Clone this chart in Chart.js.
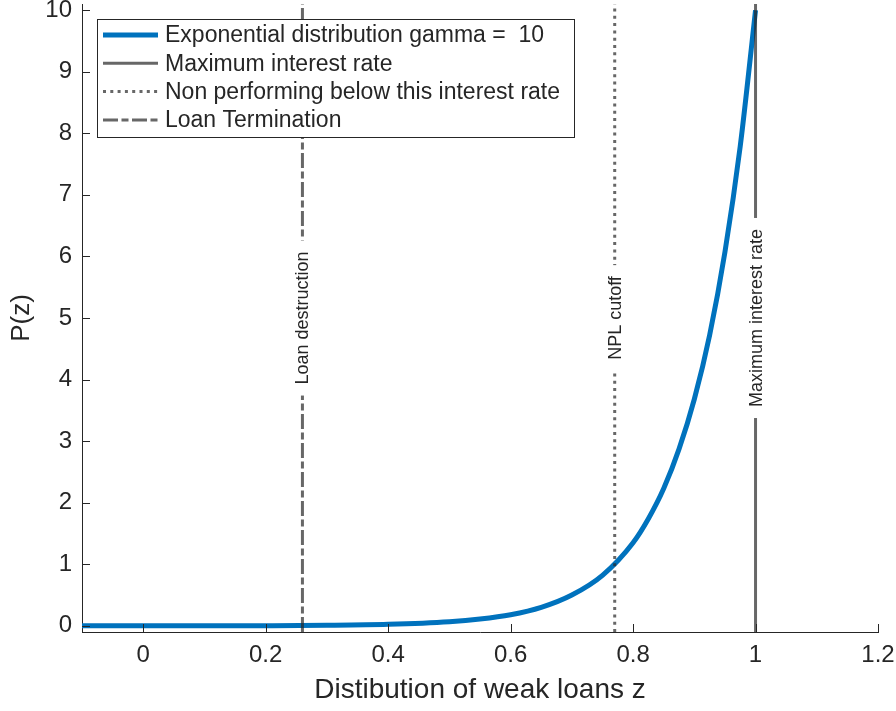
<!DOCTYPE html>
<html>
<head>
<meta charset="utf-8">
<script src="https://cdn.jsdelivr.net/npm/chart.js@4/dist/chart.umd.min.js"></script>
<style>
  html, body { margin: 0; padding: 0; background: #ffffff; }
  #wrap { width: 896px; height: 711px; }
</style>
</head>
<body>
<div id="wrap"><canvas id="chart" width="896" height="711"></canvas></div>
<script>
// Density of weak loans P(z), sampled along z
const zValues       = [-0.1, 0.0, 0.1, 0.2, 0.3, 0.4, 0.5, 0.55, 0.6, 0.65, 0.7, 0.75, 0.8, 0.825, 0.85, 0.875, 0.9, 0.925, 0.95, 0.975, 1.0];
const densityValues = [0.0, 0.0005, 0.001, 0.003, 0.009, 0.025, 0.067, 0.11, 0.18, 0.30, 0.50, 0.82, 1.35, 1.74, 2.23, 2.87, 3.68, 4.72, 6.07, 7.79, 10.0];
const curveName = 'Exponential distribution gamma =  10';

// Vertical reference lines
const markerNames     = ['Maximum interest rate', 'Non performing below this interest rate', 'Loan Termination'];
const markerPositions = [1.0, 0.77, 0.26];
const markerLabels    = ['Maximum interest rate', 'NPL cutoff', 'Loan destruction'];

// Axes
const xRange = [-0.1, 1.2];
const yRange = [-0.1, 10.1];
const xTickValues = [0, 0.2, 0.4, 0.6, 0.8, 1, 1.2];
const xTickLabels = ['0', '0.2', '0.4', '0.6', '0.8', '1', '1.2'];
const yTickValues = [0, 1, 2, 3, 4, 5, 6, 7, 8, 9, 10];
const yTickLabels = ['0', '1', '2', '3', '4', '5', '6', '7', '8', '9', '10'];
const xTitle = 'Distibution of weak loans z';
const yTitle = 'P(z)';

const FONT = "'Liberation Sans', Arial, Helvetica, sans-serif";
const INK = '#262626';
const LINE_GREY = 'rgba(38,38,38,0.7)';
const BLUE = '#0072BD';
const markerDashes = [[], [3, 4.3], [15, 3.5, 7, 3.5]];

const curvePoints = zValues.map((z, i) => ({ x: z, y: densityValues[i] }));

const datasets = [{
  label: curveName,
  data: curvePoints,
  borderColor: BLUE,
  borderWidth: 5,
  cubicInterpolationMode: 'monotone',
  pointRadius: 0,
  fill: false,
  order: 1
}];
markerPositions.forEach((pos, i) => {
  datasets.push({
    label: markerNames[i],
    data: [{ x: pos, y: yRange[0] }, { x: pos, y: yRange[1] }],
    borderColor: LINE_GREY,
    borderWidth: 3,
    borderDash: markerDashes[i],
    pointRadius: 0,
    fill: false,
    order: 0
  });
});

// Inward tick marks, MATLAB style
const innerTicks = {
  id: 'innerTicks',
  afterDraw(chart) {
    const { ctx, chartArea, scales } = chart;
    ctx.save();
    ctx.strokeStyle = INK;
    ctx.lineWidth = 1;
    ctx.beginPath();
    xTickValues.forEach(v => {
      const px = Math.round(scales.x.getPixelForValue(v)) + 0.5;
      ctx.moveTo(px, chartArea.bottom);
      ctx.lineTo(px, chartArea.bottom - 8);
    });
    yTickValues.forEach(v => {
      const py = Math.round(scales.y.getPixelForValue(v)) + 0.5;
      ctx.moveTo(chartArea.left, py);
      ctx.lineTo(chartArea.left + 8, py);
    });
    ctx.stroke();
    ctx.restore();
  }
};

// Rotated labels sitting in gaps of the vertical lines
const lineLabels = {
  id: 'lineLabels',
  afterDatasetsDraw(chart) {
    const { ctx, chartArea, scales } = chart;
    const midY = (chartArea.top + chartArea.bottom) / 2;
    ctx.save();
    ctx.font = '18px ' + FONT;
    markerPositions.forEach((pos, i) => {
      const px = scales.x.getPixelForValue(pos);
      const text = markerLabels[i];
      const w = ctx.measureText(text).width;
      ctx.fillStyle = '#ffffff';
      ctx.fillRect(px - 6, midY - w / 2 - 11, 12, w + 22);
      ctx.save();
      ctx.translate(px, midY);
      ctx.rotate(-Math.PI / 2);
      ctx.textAlign = 'center';
      ctx.textBaseline = 'middle';
      ctx.fillStyle = INK;
      ctx.fillText(text, 0, 1);
      ctx.restore();
    });
    ctx.restore();
  }
};

// Boxed legend in the upper-left corner of the plot
const boxLegend = {
  id: 'boxLegend',
  afterDraw(chart) {
    const { ctx } = chart;
    const bx = 97, by = 19, bw = 477, bh = 118;
    ctx.save();
    ctx.fillStyle = '#ffffff';
    ctx.fillRect(bx, by, bw, bh);
    ctx.strokeStyle = INK;
    ctx.lineWidth = 1;
    ctx.strokeRect(bx + 0.5, by + 0.5, bw, bh);
    ctx.font = '23px ' + FONT;
    ctx.textBaseline = 'middle';
    ctx.textAlign = 'left';
    chart.data.datasets.forEach((ds, i) => {
      const cy = 35 + i * 28.3;
      ctx.beginPath();
      ctx.strokeStyle = ds.borderColor;
      ctx.lineWidth = ds.borderWidth;
      ctx.setLineDash(ds.borderDash || []);
      ctx.moveTo(103, cy);
      ctx.lineTo(158, cy);
      ctx.stroke();
      ctx.setLineDash([]);
      ctx.fillStyle = INK;
      ctx.fillText(ds.label, 165, cy + 1);
    });
    ctx.restore();
  }
};

new Chart(document.getElementById('chart'), {
  type: 'line',
  data: { datasets },
  options: {
    responsive: false,
    animation: false,
    devicePixelRatio: 1,
    layout: { padding: { top: 4, right: 18, left: 0, bottom: 0 } },
    plugins: {
      legend: { display: false },
      tooltip: { enabled: false }
    },
    scales: {
      x: {
        type: 'linear',
        min: xRange[0],
        max: xRange[1],
        afterBuildTicks(scale) { scale.ticks = xTickValues.map(v => ({ value: v })); },
        afterFit(scale) {
          scale.height = 79;
          scale.paddingLeft = 0;
          scale.paddingRight = 0;
        },
        grid: { display: false, drawTicks: false },
        border: { display: true, color: INK, width: 1 },
        ticks: {
          autoSkip: false,
          maxRotation: 0,
          padding: 9,
          color: INK,
          font: { family: FONT, size: 24 },
          callback: (v, i) => xTickLabels[i]
        },
        title: {
          display: true,
          text: xTitle,
          color: INK,
          font: { family: FONT, size: 28 },
          padding: { top: 0, bottom: 4 }
        }
      },
      y: {
        type: 'linear',
        min: yRange[0],
        max: yRange[1],
        afterBuildTicks(scale) { scale.ticks = yTickValues.map(v => ({ value: v })); },
        afterFit(scale) {
          scale.width = 82;
          scale.paddingTop = 0;
          scale.paddingBottom = 0;
        },
        grid: { display: false, drawTicks: false },
        border: { display: true, color: INK, width: 1 },
        ticks: {
          autoSkip: false,
          padding: 10,
          color: INK,
          font: { family: FONT, size: 24 },
          callback: (v, i) => yTickLabels[i]
        },
        title: {
          display: true,
          text: yTitle,
          color: INK,
          font: { family: FONT, size: 26 },
          padding: { top: 6, bottom: 0 }
        }
      }
    }
  },
  plugins: [lineLabels, innerTicks, boxLegend]
});
</script>
</body>
</html>
